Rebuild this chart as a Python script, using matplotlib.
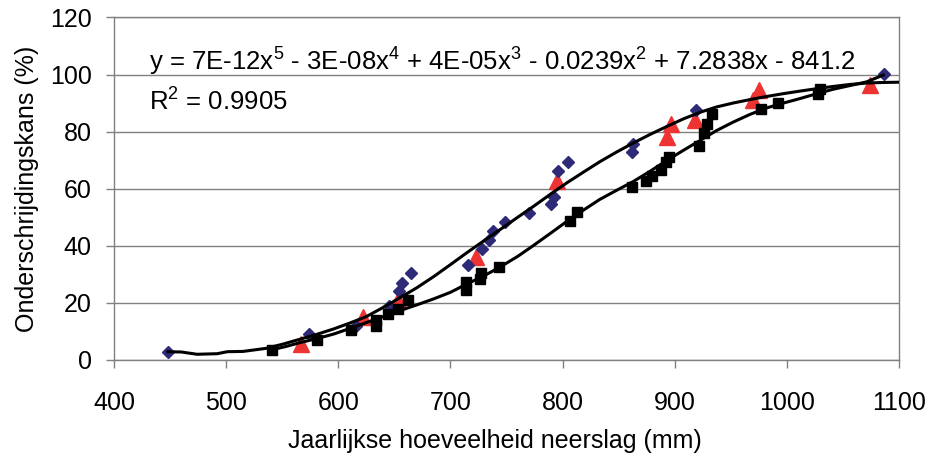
import matplotlib
matplotlib.use("Agg")
import matplotlib.pyplot as plt

plt.rcParams['font.family'] = ['Liberation Sans', 'DejaVu Sans']
plt.rcParams['mathtext.fontset'] = 'custom'
plt.rcParams['mathtext.rm'] = 'Liberation Sans'
plt.rcParams['mathtext.it'] = 'Liberation Sans'

# observed series (precipitation mm, non-exceedance %)
diamond_x = [448, 574, 616, 645, 654, 657, 665, 716, 728, 734, 738, 749, 770,
             790, 792, 796, 805, 862, 863, 919, 1087]
diamond_y = [2.9, 9.0, 11.8, 18.8, 24.0, 27.0, 30.4, 33.3, 39.0, 42.0, 45.3,
             48.4, 51.4, 54.6, 57.2, 66.3, 69.2, 72.7, 75.5, 87.6, 100.1]

triangle_x = [567, 622, 653, 723, 795, 893, 897, 918, 970, 975, 1074]
triangle_y = [5.5, 15.0, 21.0, 35.9, 62.8, 78.2, 82.6, 84.2, 91.0, 94.4, 96.4]

square_x = [541, 581, 611, 634, 634, 644, 653, 662, 714, 714, 726, 727, 743,
            807, 813, 862, 874, 880, 888, 892, 895, 922, 926, 929, 933, 977,
            992, 1028, 1030]
square_y = [3.4, 7.0, 10.6, 12.0, 14.0, 16.0, 17.8, 20.9, 24.4, 27.3, 28.5,
            30.5, 32.4, 48.8, 51.7, 60.7, 62.8, 64.3, 66.6, 69.4, 71.0, 74.9,
            79.5, 82.7, 86.0, 88.0, 90.0, 93.2, 95.0]

# trend curves
curve_a_x = [448, 460, 474, 492, 501, 515, 536, 551, 566, 581, 596, 610, 625,
             640, 655, 670, 685, 700, 714, 730, 744, 760, 774, 790, 804, 819,
             833, 848, 863, 878, 893, 908, 923, 937, 952, 967, 982, 997, 1012,
             1026, 1041, 1056, 1071, 1085, 1100]
curve_a_y = [2.9, 2.8, 2.0, 2.2, 2.9, 3.0, 4.1, 5.6, 7.3, 9.0, 10.9, 12.9,
             15.2, 18.4, 21.8, 25.3, 29.2, 33.4, 37.4, 41.8, 45.6, 50.0, 53.8,
             58.3, 62.1, 65.9, 69.4, 72.8, 76.0, 79.0, 81.8, 84.5, 86.8, 88.6,
             90.0, 91.2, 92.3, 93.3, 94.2, 95.0, 95.8, 96.5, 97.0, 97.2, 97.3]

curve_b_x = [541, 553, 566, 581, 596, 610, 625, 640, 655, 670, 685, 700, 714,
             730, 744, 760, 774, 790, 804, 819, 833, 848, 863, 878, 893, 908,
             923, 937, 952, 967, 982, 997, 1012, 1026, 1041, 1056, 1071, 1086]
curve_b_y = [3.6, 4.7, 6.1, 7.5, 9.1, 11.0, 13.1, 15.2, 17.3, 19.3, 21.4,
             23.7, 26.5, 29.5, 32.5, 36.3, 40.1, 44.6, 48.6, 52.6, 56.2, 59.4,
             62.5, 66.1, 69.9, 73.5, 77.0, 80.3, 83.3, 86.0, 88.3, 90.0, 91.6,
             93.2, 94.8, 96.1, 97.4, 99.8]

equation = ('y = 7E-12x$^{5}$ - 3E-08x$^{4}$ + 4E-05x$^{3}$ - 0.0239x$^{2}$'
            ' + 7.2838x - 841.2')
r_squared = 'R$^{2}$ = 0.9905'

fig = plt.figure(figsize=(9.34, 4.58), dpi=100)
ax = fig.add_axes([0.1221, 0.214, 0.8404, 0.748])

ax.plot(triangle_x, triangle_y, linestyle='none', marker='^', ms=12,
        color='#ee3333', zorder=3)
ax.plot(diamond_x, diamond_y, linestyle='none', marker='D', ms=6,
        color='#2e2a78', zorder=4)
ax.plot(square_x, square_y, linestyle='none', marker='s', ms=7.5,
        color='black', zorder=5)
ax.plot(curve_a_x, curve_a_y, color='black', lw=2.2, zorder=6)
ax.plot(curve_b_x, curve_b_y, color='black', lw=2.2, zorder=6)

ax.set_xlim(400, 1100)
ax.set_ylim(0, 120)
ax.set_xticks(range(400, 1101, 100))
ax.set_yticks(range(0, 121, 20))
ax.yaxis.grid(True, color='#808080', lw=1)
ax.set_axisbelow(True)
for s in ax.spines.values():
    s.set_color('#808080')
    s.set_linewidth(1)
ax.tick_params(axis='both', colors='#808080', labelcolor='black',
               labelsize=18, length=6, width=1, direction='out')
ax.tick_params(axis='y', pad=10)
ax.tick_params(axis='x', pad=16)

ax.set_xlabel('Jaarlijkse hoeveelheid neerslag (mm)', fontsize=18)
ax.xaxis.set_label_coords(0.485, -0.2)
ax.xaxis.label.set_va('top')
ax.set_ylabel('Onderschrijdingskans (%)', fontsize=18, labelpad=8)

ax.text(0.045, 0.845, equation, transform=ax.transAxes, fontsize=18.5,
        va='baseline')
ax.text(0.045, 0.728, r_squared, transform=ax.transAxes, fontsize=18.5,
        va='baseline')

fig.savefig('out.png', dpi=100)
